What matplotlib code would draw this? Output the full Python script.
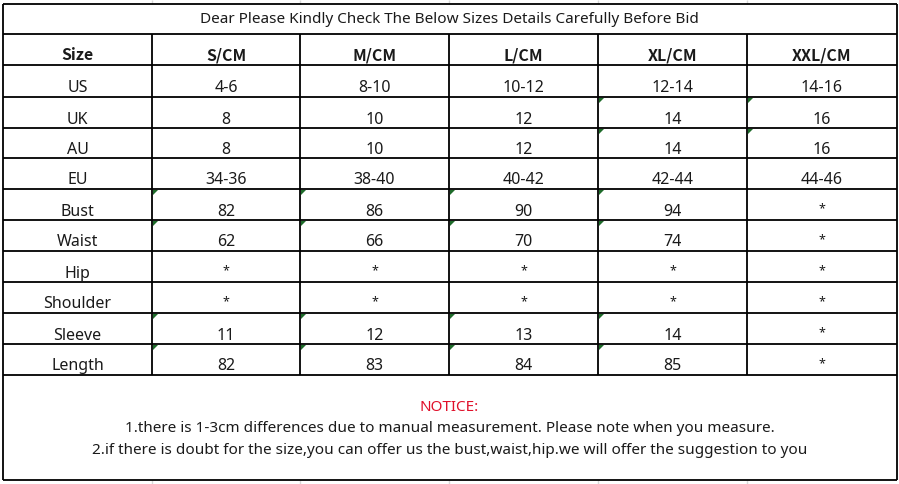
import matplotlib.pyplot as plt

# Table content
title = "Dear Please Kindly Check The Below Sizes Details Carefully Before Bid"
header = ["Size", "S/CM", "M/CM", "L/CM", "XL/CM", "XXL/CM"]
row_labels = ["US", "UK", "AU", "EU", "Bust", "Waist", "Hip", "Shoulder", "Sleeve", "Length"]
size_s = ["4-6", "8", "8", "34-36", "82", "62", "*", "*", "11", "82"]
size_m = ["8-10", "10", "10", "38-40", "86", "66", "*", "*", "12", "83"]
size_l = ["10-12", "12", "12", "40-42", "90", "70", "*", "*", "13", "84"]
size_xl = ["12-14", "14", "14", "42-44", "94", "74", "*", "*", "14", "85"]
size_xxl = ["14-16", "16", "16", "44-46", "*", "*", "*", "*", "*", "*"]
notice_title = "NOTICE:"
notice_lines = [
    "1.there is 1-3cm differences due to manual measurement. Please note when you measure.",
    "2.if there is doubt for the size,you can offer us the bust,waist,hip.we will offer the suggestion to you",
]
# cells flagged with the small green corner marker (row index, column index)
flagged = [(1, 4), (1, 5), (2, 4), (2, 5)] + [
    (r, c) for r in (4, 5, 8, 9) for c in (1, 2, 3, 4)
]

# Layout (pixels)
W, H = 899, 484
col_x = [3, 152, 300, 449, 598, 747, 897]
top, title_bot = 3.5, 34
row_y = [34, 65, 97, 128, 158, 189, 220, 251, 282, 313, 344, 375]
bottom = 480

FONT = "Noto Sans"
BOLD_FONT = "Noto Sans CJK SC"
TXT = "#1a1a1a"

fig = plt.figure(figsize=(W / 100, H / 100), dpi=100)
ax = fig.add_axes([0, 0, 1, 1])
ax.set_xlim(0, W)
ax.set_ylim(H, 0)
ax.axis("off")

# faint spreadsheet gridlines outside the table
for x in col_x[1:-1]:
    ax.vlines(x, 0, top, color="#d9d9d9", lw=1)
    ax.vlines(x, bottom, H, color="#d9d9d9", lw=1)

# table borders
lw = 1.3
ax.vlines([col_x[0], col_x[-1]], top, bottom, color="black", lw=lw)
ax.hlines([top, bottom], col_x[0], col_x[-1], color="black", lw=lw)
ax.hlines(row_y, col_x[0], col_x[-1], color="black", lw=lw)
ax.vlines(col_x[1:-1], row_y[0], row_y[-1], color="black", lw=lw)

# title
ax.text(W / 2, (top + title_bot) / 2 + 1, title, ha="center", va="center",
        fontsize=11, family=FONT, color=TXT)

# header
for c, h in enumerate(header):
    xc = (col_x[c] + col_x[c + 1]) / 2
    ax.text(xc, (row_y[0] + row_y[1]) / 2 + 6, h, ha="center", va="center",
            fontsize=11.5, fontweight="bold", family=BOLD_FONT, color=TXT)

# body
columns = [row_labels, size_s, size_m, size_l, size_xl, size_xxl]
for r in range(len(row_labels)):
    yc = (row_y[r + 1] + row_y[r + 2]) / 2 + 7
    for c, col in enumerate(columns):
        xc = (col_x[c] + col_x[c + 1]) / 2
        val = col[r]
        if val == "*":
            ax.text(xc, yc - 3, val, ha="center", va="center",
                    fontsize=9, family=FONT, color=TXT)
        else:
            ax.text(xc, yc, val, ha="center", va="center",
                    fontsize=11.5, family=FONT, color=TXT)

# green corner markers
for r, c in flagged:
    x0 = col_x[c] + 1
    y0 = row_y[r + 1] + 1
    ax.fill([x0, x0 + 5, x0], [y0, y0, y0 + 5], color="#1e6b2a", lw=0)

# notice
ax.text(W / 2, 407.5, notice_title, ha="center", va="center",
        fontsize=11, family=FONT, color="#e0102a")
for i, line in enumerate(notice_lines):
    ax.text(W / 2, 428.5 + 22.5 * i, line, ha="center", va="center",
            fontsize=11, family=FONT, color=TXT)

fig.savefig("out.png", dpi=100, facecolor="white")
